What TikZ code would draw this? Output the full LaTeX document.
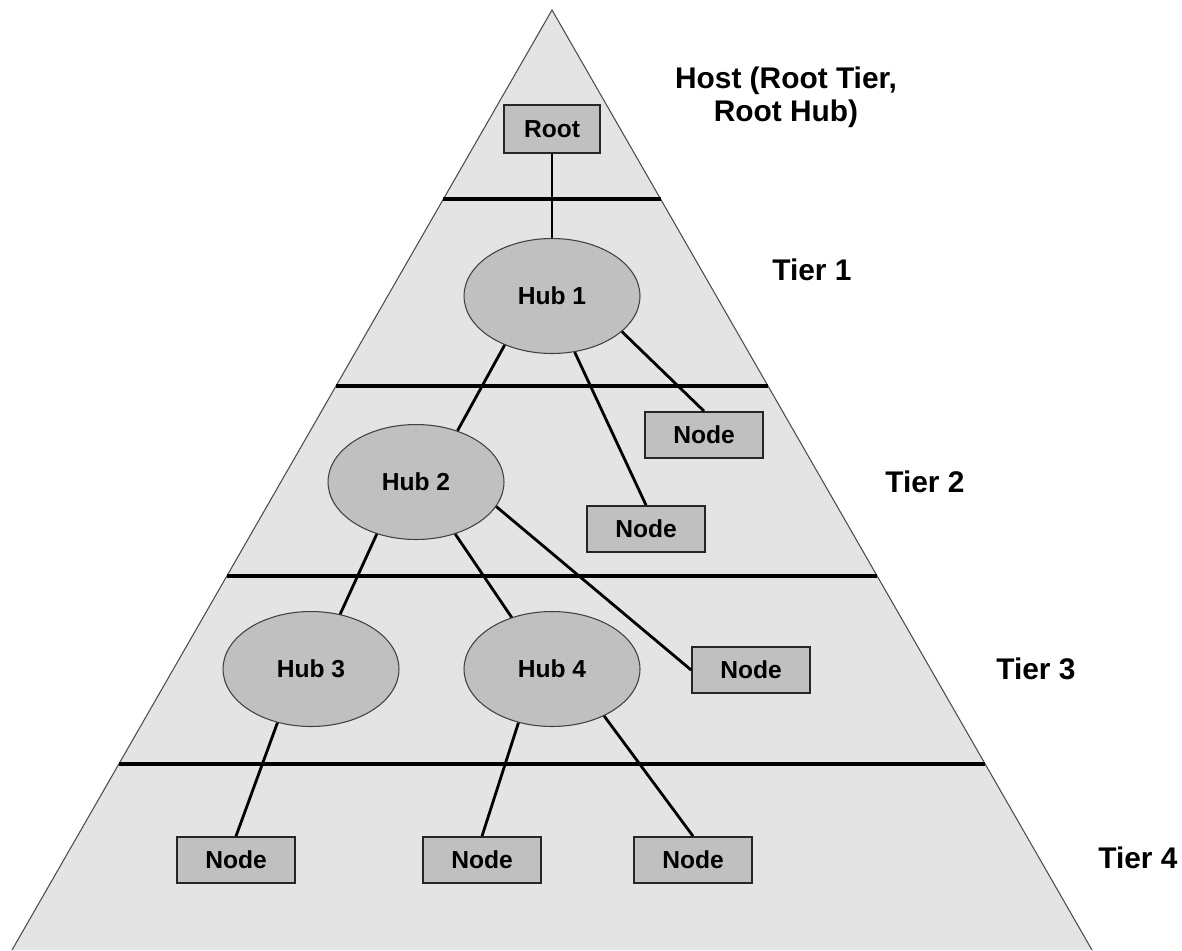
\documentclass[tikz,border=0pt]{standalone}
\usepackage{fontspec}
\setmainfont{Liberation Sans}
\usetikzlibrary{shapes.geometric}

\definecolor{tierfill}{RGB}{228,228,228}
\definecolor{boxfill}{RGB}{192,192,192}

\tikzset{
  hub/.style={ellipse, draw=black!75, line width=0.6pt, fill=boxfill,
    minimum width=3.52cm, minimum height=2.3cm, inner sep=0pt,
    font=\fontsize{14}{16}\selectfont\bfseries},
  dev/.style={rectangle, draw=black!85, line width=1pt, fill=boxfill,
    minimum width=2.36cm, minimum height=0.92cm, inner sep=0pt,
    font=\fontsize{14}{16}\selectfont\bfseries},
  tierlabel/.style={anchor=west, inner sep=0pt, font=\fontsize{17}{19}\selectfont\bfseries},
  link/.style={line width=1.6pt},
  divider/.style={line width=2pt},
  side/.style={draw=black!70, line width=0.6pt}
}

\begin{document}
\begin{tikzpicture}[x=0.02cm, y=-0.02cm]
    \useasboundingbox (0,0) rectangle (1182,950);

    % pyramid
    \fill[tierfill] (552,10) -- (12,950) -- (1092,950) -- cycle;
    \draw[side] (12,950) -- (552,10) -- (1092,950);
    \foreach \y/\l/\r in {199/443.4/660.6, 386/336/768, 576/226.8/877.2, 764/118.8/985.2}
        \draw[divider] (\l,\y) -- (\r,\y);

    % tiers
    \node (host) [align=center, inner sep=0pt, font=\fontsize{17}{19}\selectfont\bfseries]
        at (786,97) {Host (Root Tier,\\Root Hub)};
    \node (t1) [tierlabel] at (772,270) {Tier 1};
    \node (t2) [tierlabel] at (885,482) {Tier 2};
    \node (t3) [tierlabel] at (996,669) {Tier 3};
    \node (t4) [tierlabel] at (1098,858) {Tier 4};

    \node (root) [dev, minimum width=1.92cm, minimum height=0.96cm] at (552,129) {Root};
    \node (hubone) [hub] at (552,296) {Hub 1};
    \node (hubtwo) [hub] at (416,482) {Hub 2};
    \node (hubthree) [hub] at (311,669) {Hub 3};
    \node (hubfour) [hub] at (552,669) {Hub 4};

    \node (n1) [dev] at (704,435) {Node};
    \node (n2) [dev] at (646,529) {Node};
    \node (n3) [dev] at (751,670) {Node};
    \node (n4) [dev] at (236,860) {Node};
    \node (n5) [dev] at (482,860) {Node};
    \node (n6) [dev] at (693,860) {Node};

    \path[link] (root.south) edge (hubone.north)
             (hubone.226) edge (hubtwo.51)
             (hubone.292) edge (n2.north)
             (hubone.333) edge (n1.north)
             (hubtwo.233) edge (hubthree.62)
             (hubtwo.307) edge (hubfour.128)
             (hubtwo.343) edge (n3.west)
             (hubthree.238) edge (n4.north)
             (hubfour.238) edge (n5.north)
             (hubfour.318) edge (n6.north);
\end{tikzpicture}
\end{document}
